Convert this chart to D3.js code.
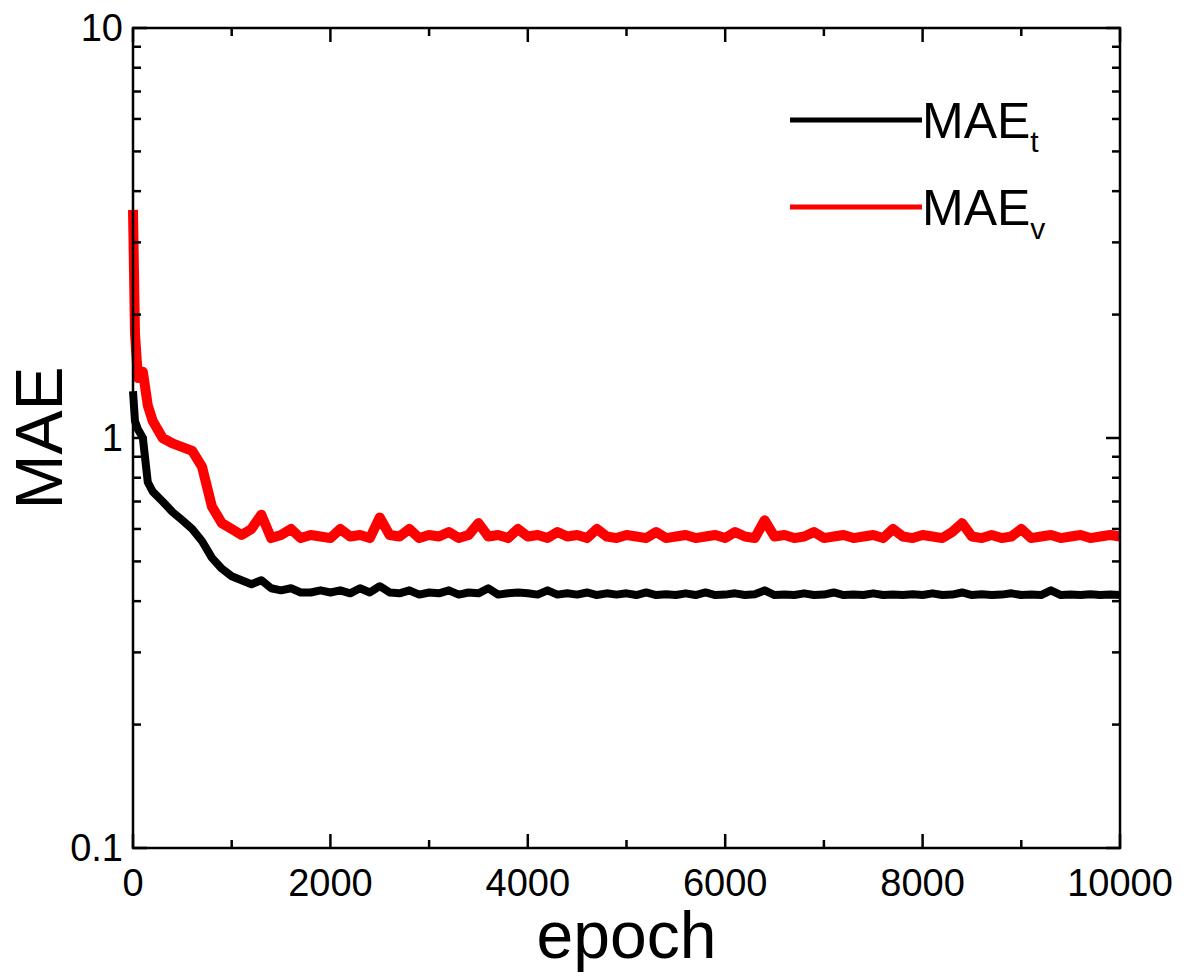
<!DOCTYPE html>
<html><head><meta charset="utf-8">
<script src="https://cdn.jsdelivr.net/npm/d3@7"></script>
<style>body{margin:0;background:#fff}text{font-family:"Liberation Sans",Arial,sans-serif}</style>
</head><body><svg id="c" width="1191" height="980"></svg>
<script>
// epochs
const epochs = [0,20,50,100,150,200,300,400,500,600,700,800,900,1000,1100,1200,1300,1400,1500,1600,1700,1800,1900,
  2000,2100,2200,2300,2400,2500,2600,2700,2800,2900,3000,3100,3200,3300,3400,3500,3600,3700,3800,3900,
  4000,4100,4200,4300,4400,4500,4600,4700,4800,4900,5000,5100,5200,5300,5400,5500,5600,5700,5800,5900,
  6000,6100,6200,6300,6400,6500,6600,6700,6800,6900,7000,7100,7200,7300,7400,7500,7600,7700,7800,7900,
  8000,8100,8200,8300,8400,8500,8600,8700,8800,8900,9000,9100,9200,9300,9400,9500,9600,9700,9800,9900,10000];
const maeT = [1.3,1.1,1.05,1.0,0.78,0.74,0.7,0.66,0.63,0.6,0.56,0.51,0.48,0.46,0.45,0.44,0.45,0.43,0.425,0.43,0.42,0.42,0.425,
  0.42,0.425,0.418,0.43,0.42,0.435,0.42,0.418,0.425,0.415,0.42,0.418,0.425,0.415,0.42,0.418,0.43,0.415,0.418,0.42,
  0.418,0.415,0.425,0.415,0.418,0.415,0.42,0.414,0.418,0.415,0.418,0.414,0.42,0.414,0.416,0.414,0.418,0.414,0.42,0.414,
  0.415,0.418,0.414,0.416,0.425,0.414,0.415,0.414,0.418,0.414,0.415,0.42,0.414,0.415,0.414,0.418,0.414,0.415,0.414,0.416,
  0.414,0.418,0.414,0.415,0.42,0.414,0.416,0.414,0.415,0.418,0.414,0.415,0.414,0.425,0.414,0.415,0.414,0.416,0.414,0.415,0.414];
const maeV = [3.6,1.8,1.4,1.45,1.2,1.1,1.0,0.97,0.95,0.93,0.85,0.68,0.62,0.6,0.58,0.6,0.65,0.57,0.58,0.6,0.57,0.58,0.575,
  0.57,0.6,0.575,0.58,0.57,0.64,0.58,0.575,0.6,0.57,0.58,0.575,0.59,0.57,0.58,0.62,0.575,0.58,0.57,0.6,
  0.575,0.58,0.57,0.59,0.575,0.58,0.57,0.6,0.575,0.57,0.58,0.575,0.57,0.59,0.57,0.575,0.58,0.57,0.575,0.58,
  0.57,0.59,0.575,0.57,0.63,0.575,0.58,0.57,0.575,0.59,0.57,0.575,0.58,0.57,0.575,0.58,0.57,0.6,0.575,0.57,
  0.58,0.575,0.57,0.59,0.62,0.575,0.57,0.58,0.57,0.575,0.6,0.57,0.575,0.58,0.57,0.575,0.58,0.57,0.575,0.58,0.575];
const xTicks = [0,2000,4000,6000,8000,10000];
const yTicks = [0.1,1,10];

const svg = d3.select("#c");
const L = 133, R = 1120, T = 28, B = 848;
const x = d3.scaleLinear().domain([0,10000]).range([L,R]);
const y = d3.scaleLog().domain([0.1,10]).range([B,T]);

const minorX = d3.range(0,10001,1000);
const minorY = [];
[0.1,1].forEach(d => { for (let k=2;k<10;k++) minorY.push(d*k); });

const line = d3.line().x((d,i) => x(epochs[i])).y(d => y(d));
svg.append("path").datum(maeV).attr("d", line).attr("fill","none").attr("stroke","#f00").attr("stroke-width",10).attr("stroke-linejoin","round");
svg.append("path").datum(maeT).attr("d", line).attr("fill","none").attr("stroke","#000").attr("stroke-width",8).attr("stroke-linejoin","round");

const g = svg.append("g").attr("stroke","#000").attr("stroke-width",2.5);
g.append("rect").attr("x",L).attr("y",T).attr("width",R-L).attr("height",B-T).attr("fill","none");
minorX.forEach(v => {
  const len = xTicks.includes(v) ? 14 : 8;
  g.append("line").attr("x1",x(v)).attr("x2",x(v)).attr("y1",B).attr("y2",B-len);
  g.append("line").attr("x1",x(v)).attr("x2",x(v)).attr("y1",T).attr("y2",T+len);
});
yTicks.concat(minorY).forEach(v => {
  const len = yTicks.includes(v) ? 14 : 8;
  g.append("line").attr("x1",L).attr("x2",L+len).attr("y1",y(v)).attr("y2",y(v));
  g.append("line").attr("x1",R).attr("x2",R-len).attr("y1",y(v)).attr("y2",y(v));
});

svg.selectAll(".xl").data(xTicks).join("text").attr("x",d => x(d)).attr("y",B+48)
  .attr("text-anchor","middle").attr("font-size",38).text(d => d);
svg.selectAll(".yl").data(yTicks).join("text").attr("x",L-10).attr("y",d => y(d)+13)
  .attr("text-anchor","end").attr("font-size",38).text(d => d);
svg.append("text").attr("x",(L+R)/2).attr("y",958).attr("text-anchor","middle").attr("font-size",66).text("epoch");
svg.append("text").attr("transform",`translate(62,${(T+B)/2}) rotate(-90)`).attr("text-anchor","middle").attr("font-size",66).text("MAE");

const legend = [{c:"#000",s:"t",yy:120},{c:"#f00",s:"v",yy:207}];
legend.forEach(d => {
  svg.append("line").attr("x1",790).attr("x2",922).attr("y1",d.yy).attr("y2",d.yy).attr("stroke",d.c).attr("stroke-width",5);
  const t = svg.append("text").attr("x",922).attr("y",d.yy+18).attr("font-size",50);
  t.append("tspan").text("MAE");
  t.append("tspan").attr("font-size",30).attr("dy",14).text(d.s);
});
</script></body></html>
